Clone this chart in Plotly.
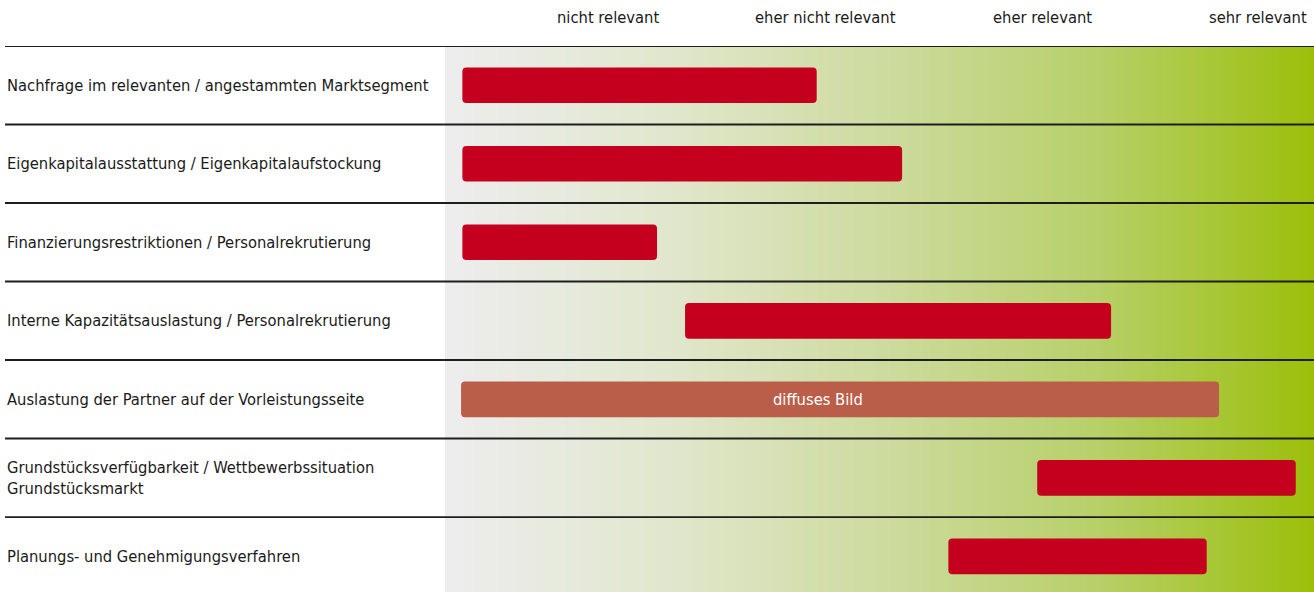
import numpy as np
import plotly.graph_objects as go

# rows (top to bottom)
labels = [
    "Nachfrage im relevanten / angestammten Marktsegment",
    "Eigenkapitalausstattung / Eigenkapitalaufstockung",
    "Finanzierungsrestriktionen / Personalrekrutierung",
    "Interne Kapazitätsauslastung / Personalrekrutierung",
    "Auslastung der Partner auf der Vorleistungsseite",
    "Grundstücksverfügbarkeit / Wettbewerbssituation<br>Grundstücksmarkt",
    "Planungs- und Genehmigungsverfahren",
]
# bar extents on the relevance scale (0 = left edge, 4 = right edge)
bar_start = [0.08, 0.08, 0.08, 1.105, 0.074, 2.726, 2.317]
bar_end = [1.711, 2.104, 0.976, 3.066, 3.563, 3.916, 3.506]
bar_color = ["#C5001E", "#C5001E", "#C5001E", "#C5001E", "#BA5E4A", "#C5001E", "#C5001E"]

header_labels = ["nicht relevant", "eher nicht relevant", "eher relevant", "sehr relevant"]
header_pos = [0.75, 1.75, 2.75, 3.74]

diffus_text = "diffuses Bild"
diffus_pos = 1.717
diffus_row = 4

FONT = "Liberation Sans Narrow, Arial Narrow, DejaVu Sans Condensed, sans-serif"
rows = list(range(len(labels)))

fig = go.Figure()

# background gradient grey -> green
edges = np.linspace(0, 4, 241)
mids = (edges[:-1] + edges[1:]) / 2
fig.add_trace(go.Heatmap(
    x=edges, y=[-0.5, 7], z=[mids],
    colorscale=[[0, "#EDEDEE"], [0.25, "#E1E7CE"], [0.5, "#CEDBA0"],
                [0.75, "#B7D069"], [1, "#9BBF0A"]],
    zmin=0, zmax=4, showscale=False, hoverinfo="skip",
))

fig.add_trace(go.Bar(
    y=rows,
    base=bar_start,
    x=[e - s for s, e in zip(bar_start, bar_end)],
    orientation="h",
    width=0.455,
    marker=dict(color=bar_color, cornerradius=4, line=dict(width=0)),
    hoverinfo="skip",
))

# row separators
for r in rows:
    fig.add_shape(type="line", xref="paper", x0=5 / 1314, x1=1,
                  y0=r - 0.5, y1=r - 0.5, line=dict(color="#1e1e1e", width=1.8))

for r, lab in zip(rows, labels):
    fig.add_annotation(xref="paper", x=5 / 1314, y=r, text=lab, showarrow=False,
                       xanchor="left", yanchor="middle", align="left",
                       font=dict(family=FONT, size=16.4, color="#1a1a1a"))

for h, p in zip(header_labels, header_pos):
    fig.add_annotation(x=p, yref="paper", y=1 + 28 / 546, text=h, showarrow=False,
                       xanchor="center", yanchor="middle",
                       font=dict(family=FONT, size=16.4, color="#1a1a1a"))

fig.add_annotation(x=diffus_pos, y=diffus_row, text=diffus_text, showarrow=False,
                   xanchor="center", yanchor="middle",
                   font=dict(family=FONT, size=16.4, color="white"))

fig.update_layout(
    width=1314, height=592,
    margin=dict(l=0, r=0, t=46, b=0),
    paper_bgcolor="white", plot_bgcolor="white",
    showlegend=False,
    xaxis=dict(range=[-445 / 217.25, 869 / 217.25], visible=False, fixedrange=True),
    yaxis=dict(range=[6.455, -0.5], visible=False, fixedrange=True),
)

fig.write_html("out.html", config={"displayModeBar": False},
               post_script="document.body.style.margin='0';")
